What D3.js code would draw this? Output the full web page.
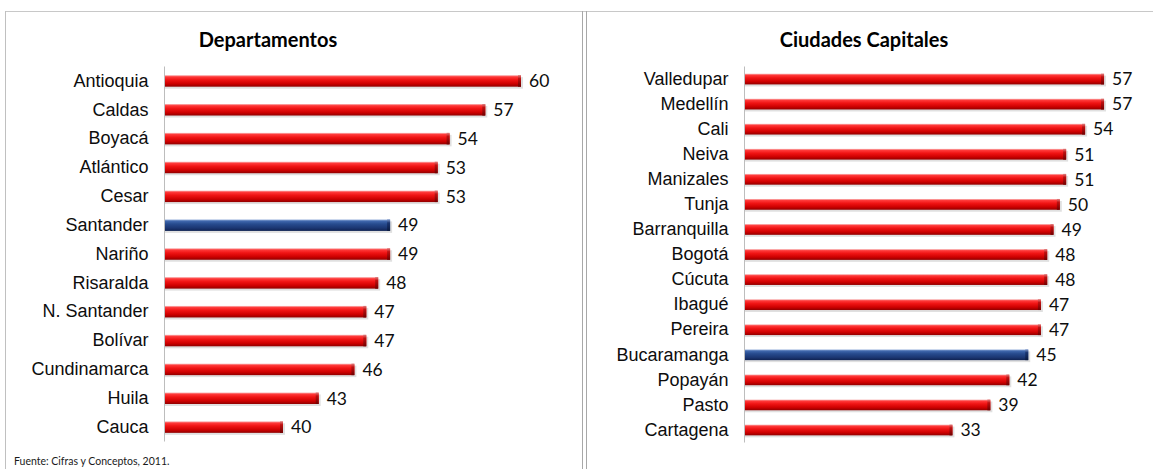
<!DOCTYPE html>
<html>
<head>
<meta charset="utf-8">
<script src="https://cdn.jsdelivr.net/npm/d3@7"></script>
<style>
	body { margin: 0; background: #fff; }
	svg { display: block; font-family: Lato, 'Open Sans', sans-serif; }
	.cat { font-size: 18px; fill: #0d0d0d; }
	.val { font-size: 17.5px; fill: #0d0d0d; }
	.panel-title { font-size: 20px; font-weight: bold; fill: #000; }
	.source { font-size: 10.5px; fill: #1a1a1a; }
</style>
</head>
<body>
<div id="chart"></div>
<script>
// Departamentos
var deptNames = ['Antioquia', 'Caldas', 'Boyacá', 'Atlántico', 'Cesar', 'Santander', 'Nariño',
	'Risaralda', 'N. Santander', 'Bolívar', 'Cundinamarca', 'Huila', 'Cauca'];
var deptValues = [60, 57, 54, 53, 53, 49, 49, 48, 47, 47, 46, 43, 40];

// Ciudades capitales
var cityNames = ['Valledupar', 'Medellín', 'Cali', 'Neiva', 'Manizales', 'Tunja', 'Barranquilla',
	'Bogotá', 'Cúcuta', 'Ibagué', 'Pereira', 'Bucaramanga', 'Popayán', 'Pasto', 'Cartagena'];
var cityValues = [57, 57, 54, 51, 51, 50, 49, 48, 48, 47, 47, 45, 42, 39, 33];

var highlighted = ['Santander', 'Bucaramanga'];
var sourceText = 'Fuente: Cifras y Conceptos, 2011.';

var width = 1153;
var height = 469;

var app = {
	init: function(el) {
		this.svg = d3.select(el).append('svg')
			.attr('width', width)
			.attr('height', height);

		this.addGradients();
		this.drawFrame();

		this.drawPanel({
			title: 'Departamentos',
			titleX: 268,
			names: deptNames,
			values: deptValues,
			domain: [30, 60],
			xRange: [164, 521],
			yRange: [66.5, 441.5],
			padInner: 0.6
		});

		this.drawPanel({
			title: 'Ciudades Capitales',
			titleX: 864,
			names: cityNames,
			values: cityValues,
			domain: [0, 60],
			xRange: [744, 1123],
			yRange: [66.5, 442.5],
			padInner: 0.57
		});

		this.svg.append('text')
			.attr('class', 'source')
			.attr('x', 14)
			.attr('y', 465)
			.text(sourceText);
	},
	addGradients: function() {
		var defs = this.svg.append('defs');

		var makeGrad = function(id, stops) {
			var g = defs.append('linearGradient')
				.attr('id', id)
				.attr('x1', 0).attr('y1', 0)
				.attr('x2', 0).attr('y2', 1);
			stops.forEach(function(s) {
				g.append('stop').attr('offset', s[0]).attr('stop-color', s[1]);
			});
		};

		makeGrad('red', [[0, '#f9c0c0'], [0.14, '#ff3a3a'], [0.4, '#f01414'], [0.75, '#cc0000'], [1, '#900000']]);
		makeGrad('blue', [[0, '#b4c6e6'], [0.14, '#4068ae'], [0.4, '#274b8e'], [0.75, '#1b3672'], [1, '#102352']]);
		makeGrad('redCap', [[0, '#e08080'], [0.3, '#c01010'], [1, '#700000']]);
		makeGrad('blueCap', [[0, '#8098c8'], [0.3, '#1a3570'], [1, '#0a1a40']]);
	},
	drawFrame: function() {
		var svg = this.svg;

		svg.append('line')
			.attr('x1', 5).attr('x2', width)
			.attr('y1', 11.5).attr('y2', 11.5)
			.attr('stroke', '#c8c8c8');

		[5.5, 582.5, 586.5].forEach(function(x, i) {
			svg.append('line')
				.attr('x1', x).attr('x2', x)
				.attr('y1', 11).attr('y2', height)
				.attr('stroke', i === 0 ? '#c0c0c0' : '#a8a8a8');
		});
	},
	drawPanel: function(opts) {
		var svg = this.svg;

		var data = opts.names.map(function(n, i) {
			return { name: n, value: opts.values[i] };
		});

		var x = d3.scaleLinear()
			.domain(opts.domain)
			.range(opts.xRange);

		var y = d3.scaleBand()
			.domain(opts.names)
			.range(opts.yRange)
			.paddingInner(opts.padInner)
			.paddingOuter(opts.padInner / 2);

		svg.append('text')
			.attr('class', 'panel-title')
			.attr('x', opts.titleX)
			.attr('y', 47)
			.style('text-anchor', 'middle')
			.text(opts.title);

		// category axis, line only
		var yAxis = svg.append('g')
			.attr('transform', 'translate(' + (opts.xRange[0] + 0.5) + ',0)')
			.call(d3.axisLeft(y).tickSize(0).tickPadding(16));

		yAxis.select('.domain')
			.attr('stroke', '#bdbdbd')
			.attr('d', 'M0,' + opts.yRange[0] + 'V' + opts.yRange[1]);

		yAxis.selectAll('text')
			.attr('class', 'cat')
			.attr('font-family', null)
			.attr('font-size', null)
			.attr('fill', null);

		var bars = svg.append('g').selectAll('g')
			.data(data)
			.enter().append('g');

		// soft shadow under each bar
		bars.append('rect')
			.attr('x', x(opts.domain[0]) + 1)
			.attr('y', function(d) { return y(d.name) + 2; })
			.attr('width', function(d) { return x(d.value) - x(opts.domain[0]) + 1; })
			.attr('height', y.bandwidth())
			.attr('fill', '#000')
			.attr('opacity', 0.12);

		bars.append('rect')
			.attr('x', x(opts.domain[0]) + 1)
			.attr('y', function(d) { return y(d.name); })
			.attr('width', function(d) { return x(d.value) - x(opts.domain[0]) - 1; })
			.attr('height', y.bandwidth())
			.attr('fill', function(d) {
				return highlighted.indexOf(d.name) > -1 ? 'url(#blue)' : 'url(#red)';
			});

		// darker end cap
		bars.append('rect')
			.attr('x', function(d) { return x(d.value) - 3; })
			.attr('y', function(d) { return y(d.name); })
			.attr('width', 3)
			.attr('height', y.bandwidth())
			.attr('fill', function(d) {
				return highlighted.indexOf(d.name) > -1 ? 'url(#blueCap)' : 'url(#redCap)';
			});

		bars.append('text')
			.attr('class', 'val')
			.attr('x', function(d) { return x(d.value) + 8; })
			.attr('y', function(d) { return y(d.name) + y.bandwidth() / 2; })
			.attr('dy', '0.36em')
			.text(function(d) { return d.value; });
	}
};

app.init('#chart');
</script>
</body>
</html>
